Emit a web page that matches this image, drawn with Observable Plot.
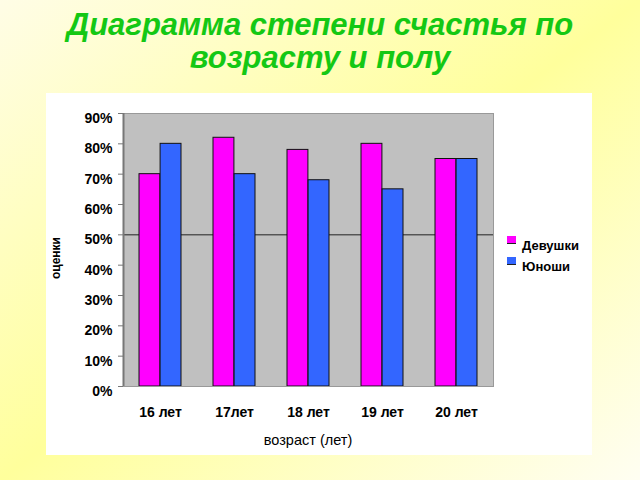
<!DOCTYPE html>
<html>
<head>
<meta charset="utf-8">
<script src="https://cdn.jsdelivr.net/npm/d3@7"></script>
<script src="https://cdn.jsdelivr.net/npm/@observablehq/plot@0.6"></script>
<style>
  html, body { margin: 0; padding: 0; }
  body {
    width: 640px; height: 480px; position: relative; overflow: hidden;
    background: linear-gradient(to bottom right, #fffde6 0%, #ffff9c 50%, #fffef2 100%);
    font-family: "Liberation Sans", Arial, sans-serif;
  }
  #title {
    position: absolute; left: 0; top: 8px; width: 640px;
    text-align: center; color: #14c814; font-weight: bold; font-style: italic;
    font-size: 31px; line-height: 33px;
  }
  #panel {
    position: absolute; left: 46px; top: 93px; width: 546px; height: 362px; background: #fff;
  }
  #chart { position: absolute; left: 0; top: 0; }
  #xlabel {
    position: absolute; left: 77px; width: 370px; top: 339px; text-align: center;
    font-size: 14.5px; color: #000;
  }
  #ylabel {
    position: absolute; left: -20px; top: 158px; width: 60px; text-align: center;
    font-size: 12px; font-weight: bold; transform: rotate(-90deg); white-space: nowrap; line-height: 14px;
  }
  #legend {
    position: absolute; left: 461px; top: 141px; width: 84px; height: 40px;
    font-size: 13px; font-weight: bold;
  }
  .li { position: relative; height: 21px; }
  .sw { position: absolute; left: 0; top: 2px; width: 9px; height: 8px; box-sizing: border-box; }
  .lt { position: absolute; left: 15px; top: 4px; line-height: 15px; white-space: nowrap; }
</style>
</head>
<body>
<div id="title">Диаграмма степени счастья по<br>возрасту и полу</div>
<div id="panel">
  <div id="chart"></div>
  <div id="ylabel"></div>
  <div id="xlabel"></div>
  <div id="legend"></div>
</div>
<script>
const ages = ["16 лет", "17лет", "18 лет", "19 лет", "20 лет"];
const genders = ["Девушки", "Юноши"];
const girls = [70, 82, 78, 80, 75];
const boys = [80, 70, 68, 65, 75];
const colors = ["#ff00ff", "#3366ff"];
const yTicks = [0, 10, 20, 30, 40, 50, 60, 70, 80, 90];
const xTitle = "возраст (лет)";
const yTitle = "оценки";
const refLine = 50;

const girlsData = ages.map((a, i) => ({age: a, gender: genders[0], value: girls[i]}));
const boysData = ages.map((a, i) => ({age: a, gender: genders[1], value: boys[i]}));

const half = 21.09; // half of the band width, in px
const plot = Plot.plot({
  width: 546,
  height: 362,
  marginLeft: 77,
  marginRight: 99,
  marginTop: 20,
  marginBottom: 69,
  style: {fontFamily: "'Liberation Sans', Arial, sans-serif", background: "transparent", color: "#000"},
  x: {domain: ages, paddingInner: 0.43, paddingOuter: 0.215, label: null},
  y: {domain: [0, 90], label: null},
  color: {domain: genders, range: colors},
  marks: [
    Plot.frame({fill: "#c0c0c0"}),
    Plot.ruleY([refLine], {stroke: "#222", strokeWidth: 1}),
    Plot.barY(girlsData, {x: "age", y: "value", fill: "gender", stroke: "#111", strokeWidth: 1, insetRight: half}),
    Plot.barY(boysData, {x: "age", y: "value", fill: "gender", stroke: "#111", strokeWidth: 1, insetLeft: half}),
    Plot.frame({stroke: "#999", strokeWidth: 1}),
    Plot.axisY(yTicks, {tickSize: 5, stroke: "#777", text: null, label: null}),
    Plot.axisY(yTicks, {tickFormat: d => d + "%", tickSize: 0, tickPadding: 11, fontSize: 14, fontWeight: "bold", dy: 5, label: null}),
    Plot.ruleX([ages[0]], {dx: -37, stroke: "#777", strokeWidth: 2}),
    Plot.axisX({tickSize: 0, tickPadding: 21, fontSize: 14, fontWeight: "bold", label: null})
  ]
});
document.getElementById("chart").appendChild(plot);
document.getElementById("xlabel").textContent = xTitle;
document.getElementById("ylabel").textContent = yTitle;
const leg = document.getElementById("legend");
genders.forEach((g, i) => {
  const d = document.createElement("div");
  d.className = "li";
  d.innerHTML = `<span class="sw" style="background:${colors[i]};border-bottom:1px solid #222"></span><span class="lt">${g}</span>`;
  leg.appendChild(d);
});
</script>
</body>
</html>
